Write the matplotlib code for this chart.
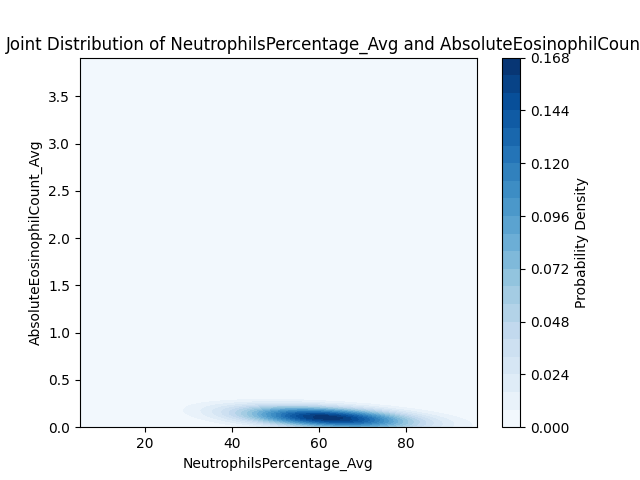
import numpy as np
import matplotlib
matplotlib.use("Agg")
import matplotlib.pyplot as plt

# summarised patient records: neutrophil % , eosinophil count, number of patients
neutro = [25, 30, 35, 40, 45, 50, 55, 60, 65, 70, 75, 80, 85, 90, 95,
          5.0, 96.3, 48.0]
eosino = [0.204, 0.190, 0.176, 0.162, 0.148, 0.134, 0.120, 0.106, 0.092,
          0.078, 0.064, 0.050, 0.036, 0.022, 0.008,
          0.12, 0.0, 3.91]
counts = [1, 4, 10, 21, 40, 63, 86, 99, 97, 82, 58, 35, 18, 8, 3,
          1, 1, 1]

x = np.array(neutro)
y = np.array(eosino)
w = np.array(counts, dtype=float)
w = w / w.sum()

# gaussian kernel density estimate on a regular grid
hx, hy = 5.0, 0.07
gx = np.linspace(x.min(), x.max(), 200)
gy = np.linspace(y.min(), y.max(), 200)
X, Y = np.meshgrid(gx, gy)
Z = np.zeros_like(X)
for xi, yi, wi in zip(x, y, w):
    Z += wi * np.exp(-0.5 * (((X - xi) / hx) ** 2 + ((Y - yi) / hy) ** 2))
Z /= 2 * np.pi * hx * hy

fig = plt.figure(figsize=(6.4, 4.8), dpi=100)
cs = plt.contourf(X, Y, Z, levels=20, cmap="Blues")
cb = plt.colorbar(cs)
cb.set_label("Probability Density")
ax = plt.gca()
t = ax.set_title("Joint Distribution of NeutrophilsPercentage_Avg and AbsoluteEosinophilCount_Avg")
plt.xlabel("NeutrophilsPercentage_Avg")
plt.ylabel("AbsoluteEosinophilCount_Avg")

# title starts a few pixels from the left figure edge, as in the original
fig.canvas.draw()
bb = t.get_window_extent()
axw = ax.get_window_extent().width
t.set_x(0.5 + (6 - bb.x0) / axw)

fig.savefig("out.png", dpi=100)
